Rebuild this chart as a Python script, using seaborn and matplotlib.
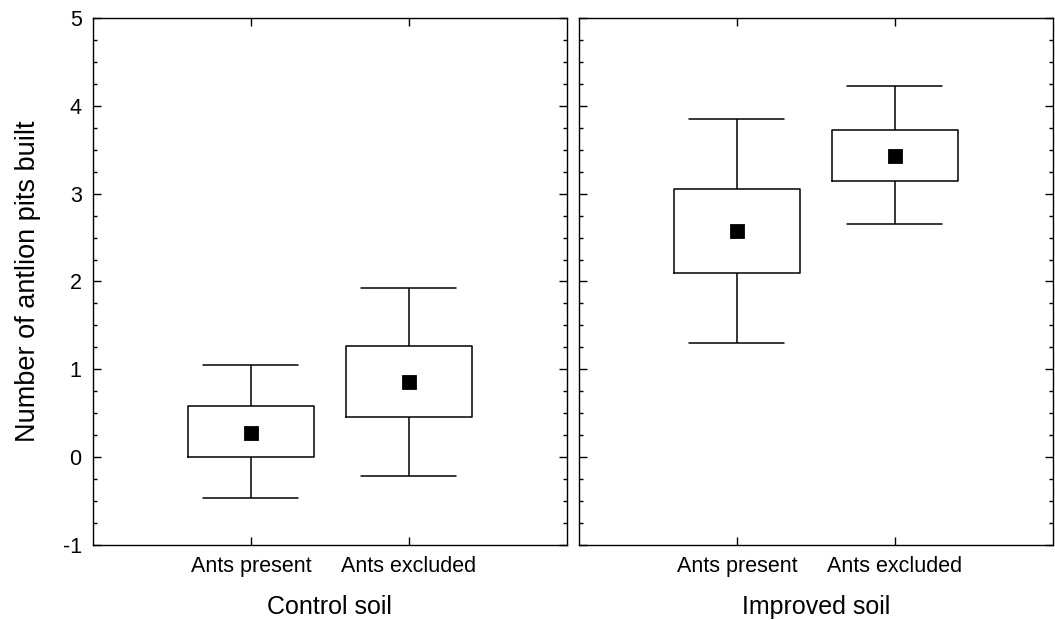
import numpy as np
import pandas as pd
import matplotlib
matplotlib.use("Agg")
import matplotlib.pyplot as plt
from matplotlib.ticker import MultipleLocator
import seaborn as sns

# values (mean, box = inner range, whiskers = outer range)
soils = ["Control soil", "Improved soil"]
treatments = ["Ants present", "Ants excluded"]
means = {"Control soil": [0.28, 0.86], "Improved soil": [2.57, 3.43]}
box_low = {"Control soil": [0.00, 0.46], "Improved soil": [2.10, 3.14]}
box_high = {"Control soil": [0.58, 1.26], "Improved soil": [3.05, 3.73]}
whisk_low = {"Control soil": [-0.46, -0.21], "Improved soil": [1.30, 2.65]}
whisk_high = {"Control soil": [1.05, 1.93], "Improved soil": [3.85, 4.22]}


def build_frame():
    # five values per group so that min/q1/q3/max land on the drawn limits
    rows = []
    for s in soils:
        for i, t in enumerate(treatments):
            vals = [whisk_low[s][i], box_low[s][i], means[s][i],
                    box_high[s][i], whisk_high[s][i]]
            for v in vals:
                rows.append({"soil": s, "treatment": t, "value": v})
    return pd.DataFrame(rows)


sns.set_style("ticks")
plt.rcParams["font.family"] = ["Liberation Sans", "DejaVu Sans"]
plt.rcParams["axes.unicode_minus"] = False
for k in ["text.color", "axes.labelcolor", "xtick.color", "ytick.color", "axes.edgecolor"]:
    plt.rcParams[k] = "black"

df = build_frame()

fig, axes = plt.subplots(1, 2, figsize=(10.55, 6.2), dpi=100, sharey=True)
fig.subplots_adjust(left=0.088, right=0.998, bottom=0.121, top=0.971, wspace=0.025)

for ax, s in zip(axes, soils):
    sub = df[df["soil"] == s]
    sns.boxplot(data=sub, x="treatment", y="value", order=treatments,
                whis=(0, 100), width=0.8, fill=False, color="black",
                linewidth=1.1, medianprops={"visible": False}, ax=ax)
    # widen the whisker caps a bit
    for line in ax.lines:
        xd = np.asarray(line.get_xdata(), dtype=float)
        yd = np.asarray(line.get_ydata(), dtype=float)
        if len(xd) == 2 and yd[0] == yd[1] and abs(abs(xd[1] - xd[0]) - 0.4) < 1e-6:
            c = xd.mean()
            line.set_xdata([c - 0.3, c + 0.3])
    mdf = pd.DataFrame({"treatment": treatments, "mean": means[s]})
    sns.pointplot(data=mdf, x="treatment", y="mean", order=treatments,
                  color="black", marker="s", linestyle="none", markersize=9,
                  errorbar=None, ax=ax)

    ax.set_xlim(-1, 2)
    ax.set_ylim(-1, 5)
    ax.yaxis.set_major_locator(MultipleLocator(1))
    ax.yaxis.set_minor_locator(MultipleLocator(0.25))
    ax.tick_params(which="both", direction="in", top=True, right=True,
                   color="black", width=1)
    ax.tick_params(which="major", length=6, labelsize=15.5, pad=8)
    ax.tick_params(which="minor", length=3)
    for sp in ax.spines.values():
        sp.set_visible(True)
        sp.set_color("black")
        sp.set_linewidth(1)
    ax.set_xlabel(s, fontsize=18, labelpad=13)

axes[0].set_ylabel("Number of antlion pits built", fontsize=19.5)
axes[0].yaxis.set_label_coords(-0.11, 0.5)
axes[1].set_ylabel("")

fig.savefig("out.png", dpi=100)
